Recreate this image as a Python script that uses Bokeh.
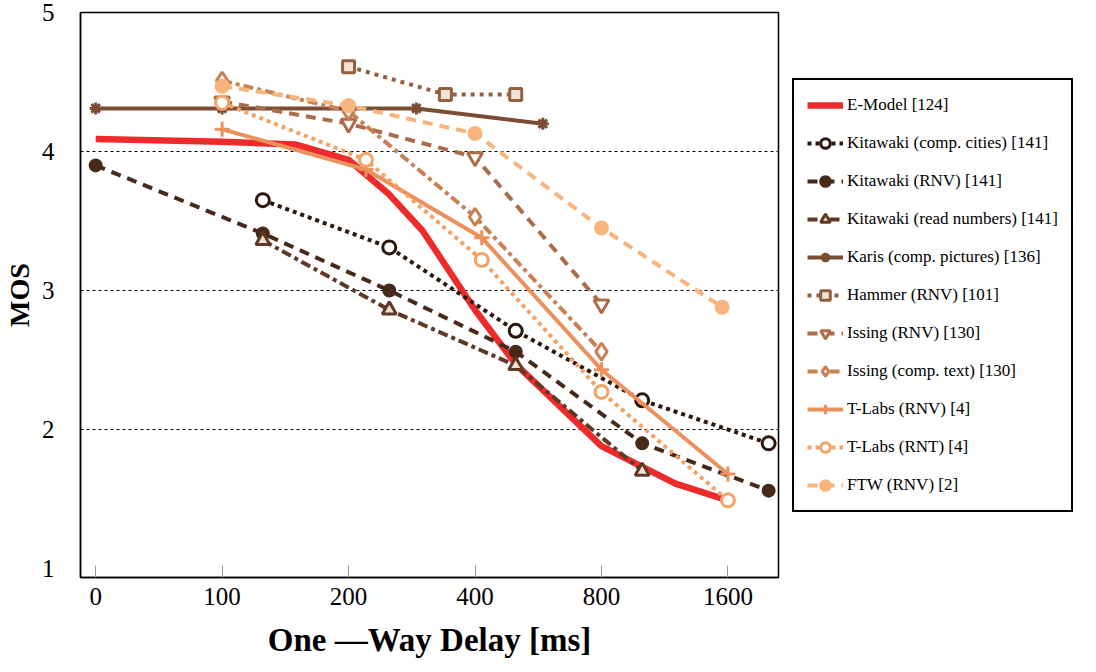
import math
from bokeh.plotting import figure
from bokeh.models import Range1d, Legend, FixedTicker
from bokeh.embed import file_html
from bokeh.resources import INLINE

# ---- data (delay in ms, MOS) ----
tick_delays = [0, 100, 200, 400, 800, 1600]
tick_labels = ["0", "100", "200", "400", "800", "1600"]

emodel_delay = [0, 100, 150, 200, 250, 300, 400, 500, 800, 1200, 1600]
emodel_mos = [4.09, 4.07, 4.05, 3.94, 3.69, 3.43, 2.86, 2.47, 1.88, 1.61, 1.49]

kit_cities_delay = [125, 250, 500, 1000, 2000]
kit_cities_mos = [3.65, 3.31, 2.71, 2.21, 1.90]

kit_rnv_delay = [0, 125, 250, 500, 1000, 2000]
kit_rnv_mos = [3.90, 3.41, 3.00, 2.56, 1.90, 1.56]

kit_read_delay = [125, 250, 500, 1000]
kit_read_mos = [3.36, 2.86, 2.46, 1.70]

karis_delay = [0, 100, 200, 290, 580]
karis_mos = [4.31, 4.31, 4.31, 4.31, 4.20]

hammer_delay = [200, 340, 500]
hammer_mos = [4.61, 4.41, 4.41]

issing_rnv_delay = [100, 200, 400, 800]
issing_rnv_mos = [4.36, 4.20, 3.96, 2.90]

issing_text_delay = [100, 200, 400, 800]
issing_text_mos = [4.51, 4.29, 3.53, 2.56]

tlabs_rnv_delay = [100, 220, 415, 800, 1600]
tlabs_rnv_mos = [4.16, 3.87, 3.38, 2.43, 1.68]

tlabs_rnt_delay = [100, 220, 415, 800, 1600]
tlabs_rnt_mos = [4.35, 3.94, 3.22, 2.27, 1.49]

ftw_delay = [100, 200, 400, 800, 1550]
ftw_mos = [4.47, 4.33, 4.13, 3.45, 2.88]


def pos(d):
    # axis: 0 at position 0, then one step per doubling starting at 100 ms
    return 0.0 if d == 0 else 1.0 + math.log2(d / 100.0)


def xs(delays):
    return [pos(d) for d in delays]


SERIF = "Liberation Serif"

p = figure(frame_width=698, frame_height=565, output_backend="svg", toolbar_location=None,
           x_range=Range1d(-0.12, 5.4), y_range=Range1d(0.935, 5.0),
           min_border_left=74, min_border_top=12, min_border_right=310,
           min_border_bottom=87, background_fill_color="white",
           border_fill_color="white")
p.outline_line_color = "black"
p.outline_line_width = 1.5

p.xgrid.visible = False
p.ygrid.ticker = FixedTicker(ticks=[2, 3, 4])
p.ygrid.grid_line_color = "black"
p.ygrid.grid_line_dash = "3 3"
p.ygrid.grid_line_width = 1

p.xaxis.ticker = FixedTicker(ticks=[pos(d) for d in tick_delays])
p.xaxis.major_label_overrides = {pos(d): lab for d, lab in zip(tick_delays, tick_labels)}
p.xaxis.major_tick_in = 12
p.xaxis.major_tick_out = 0
p.xaxis.major_tick_line_color = "#999999"
p.xaxis.minor_tick_line_color = None
p.xaxis.axis_line_color = "black"
p.xaxis.axis_line_width = 1.5
p.xaxis.major_label_text_font = SERIF
p.xaxis.major_label_text_font_size = "25px"
p.xaxis.major_label_text_color = "black"
p.xaxis.major_label_standoff = 10
p.xaxis.axis_label = "One —Way Delay [ms]"
p.xaxis.axis_label_text_font = SERIF
p.xaxis.axis_label_text_font_size = "33px"
p.xaxis.axis_label_text_font_style = "bold"
p.xaxis.axis_label_text_color = "black"
p.xaxis.axis_label_standoff = 14

p.yaxis.ticker = FixedTicker(ticks=[1, 2, 3, 4, 5])
p.yaxis.major_tick_in = 0
p.yaxis.major_tick_out = 0
p.yaxis.minor_tick_line_color = None
p.yaxis.axis_line_color = "black"
p.yaxis.axis_line_width = 1.5
p.yaxis.major_label_text_font = SERIF
p.yaxis.major_label_text_font_size = "25px"
p.yaxis.major_label_text_color = "black"
p.yaxis.major_label_standoff = 26
p.yaxis.axis_label = "MOS"
p.yaxis.axis_label_text_font = SERIF
p.yaxis.axis_label_text_font_size = "28px"
p.yaxis.axis_label_text_font_style = "bold"
p.yaxis.axis_label_text_color = "black"
p.yaxis.axis_label_standoff = 4

items = []


def series(label, delays, mos, color, dash, width, marker=None, fill=None, size=13):
    rs = []
    r = p.line(xs(delays), mos, line_color=color, line_dash=dash, line_width=width)
    rs.append(r)
    if marker is not None:
        s = p.scatter(xs(delays), mos, marker=marker, size=size, line_color=color,
                      line_width=3, fill_color=fill if fill is not None else color)
        rs.append(s)
    items.append((label, rs))


series("E-Model [124]", emodel_delay, emodel_mos, "#ee2a2a", "solid", 6.5)
series("Kitawaki (comp. cities) [141]", kit_cities_delay, kit_cities_mos, "#2b170c",
       "4 4", 4, "circle", "white", 13)
series("Kitawaki (RNV) [141]", kit_rnv_delay, kit_rnv_mos, "#47291a",
       "10 7", 4, "circle", None, 11)
series("Kitawaki (read numbers) [141]", kit_read_delay, kit_read_mos, "#5e3a25",
       "10 4 4 4", 4, "triangle", "#f0e0d6", 14)
series("Karis (comp. pictures) [136]", karis_delay, karis_mos, "#7b4e34",
       "solid", 4, "asterisk", None, 12)
series("Hammer (RNV) [101]", hammer_delay, hammer_mos, "#94603f",
       "4 5", 4, "square", "#f3e3d8", 12)
series("Issing (RNV) [130]", issing_rnv_delay, issing_rnv_mos, "#ad6c49",
       "10 7", 4, "inverted_triangle", "white", 15)
series("Issing (comp. text) [130]", issing_text_delay, issing_text_mos, "#c98154",
       "10 4 4 4", 4, "diamond", "white", 17)
series("T-Labs (RNV) [4]", tlabs_rnv_delay, tlabs_rnv_mos, "#ed915c",
       "solid", 4, "cross", None, 15)
series("T-Labs (RNT) [4]", tlabs_rnt_delay, tlabs_rnt_mos, "#f4a266",
       "4 4", 4, "circle", "white", 13)
series("FTW (RNV) [2]", ftw_delay, ftw_mos, "#f7b47c",
       "10 7", 4, "circle", None, 12)

legend = Legend(items=items, location="left", orientation="vertical")
legend.margin = 14
legend.label_text_font = SERIF
legend.label_text_font_size = "17px"
legend.label_text_color = "black"
legend.glyph_width = 36
legend.glyph_height = 24
legend.label_height = 24
legend.spacing = 14
legend.padding = 13
legend.border_line_color = "black"
legend.border_line_alpha = 1.0
legend.border_line_width = 2
legend.background_fill_alpha = 1.0
legend.label_standoff = 4
p.add_layout(legend, "right")

open("out.html", "w").write(file_html(p, INLINE))
